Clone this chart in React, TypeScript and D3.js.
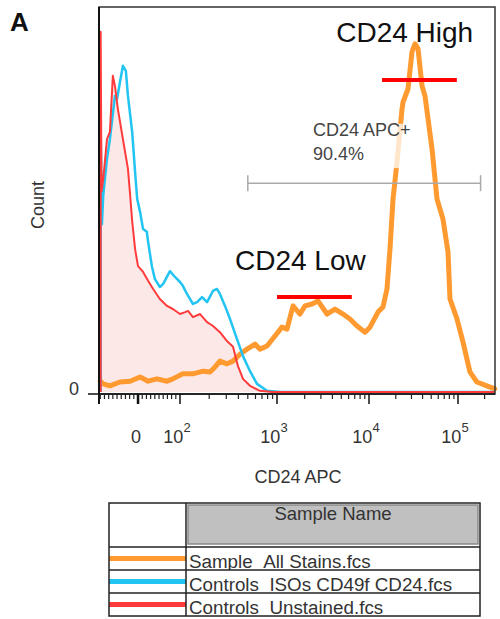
import * as d3 from "d3";

// Histogram curves: [CD24 APC value, % of max count]
const allStains: [number, number][] = [
  [-90, 2.8], [-83, 2.1], [-67, 1.6], [-43, 2.6], [-19, 2.8], [5, 3.9], [24, 2.8],
  [45, 3.4], [69, 2.8], [83, 3.4], [107, 4.7], [136, 4.7], [173, 5.4], [204, 5.2],
  [230, 6.5], [258, 8], [305, 7.3], [352, 8], [415, 9.8], [491, 11.1], [593, 12.4],
  [668, 11.1], [789, 11.9], [953, 14.5], [1133, 16.8], [1284, 16.3], [1494, 22.3],
  [1778, 20.2], [2015, 22.3], [2400, 22.8], [2790, 23.6], [3494, 20.2], [4266, 21.5],
  [5216, 20.2], [6208, 18.9], [7410, 17.1], [9050, 15.5], [10260, 16.8], [12620, 20.7],
  [14360, 22], [15920, 26.7], [17210, 37], [18620, 50], [20640, 59.6], [23500, 73.3],
  [24100, 75.1], [27420, 78.5], [30410, 88.1], [32870, 90.2], [35550, 88.9],
  [39440, 79.3], [42580, 76.7], [51050, 63], [58080, 50], [67800, 44.8], [77200, 36.3],
  [81300, 24.1], [97500, 18.9], [113800, 13], [136400, 5.2], [163400, 2.6],
  [211900, 1.6], [260000, 0.8],
];

const isoControls: [number, number][] = [
  [-89, 0], [-89, 67.4], [-86, 43.5], [-83, 50.8], [-74, 60.4], [-67, 65.5], [-55, 76.7],
  [-50, 75.9], [-43, 80.3], [-36, 84.5], [-29, 83.2], [-24, 76.7], [-14, 67.4], [-7, 57],
  [-2, 50], [5, 46.6], [12, 42.2], [21, 41.5], [24, 38.9], [33, 32.6], [40, 29.3],
  [52, 27.2], [60, 28], [76, 31.3], [88, 29.8], [100, 28.5], [107, 27.5], [118, 25.4],
  [136, 22.8], [150, 23.3], [169, 24.6], [190, 23.3], [219, 26.2], [240, 26.7],
  [258, 25.4], [291, 22.3], [328, 18.9], [387, 13.7], [446, 9.3], [527, 5.4], [622, 2.1],
  [789, 0.3], [1100, 0], [260000, 0],
];

const unstained: [number, number][] = [
  [-89, 0], [-89, 93.3], [-87, 52], [-83, 55], [-74, 65.5], [-67, 67.4], [-60, 81.9],
  [-55, 79.3], [-48, 73.3], [-36, 65.5], [-24, 57.8], [-19, 51.3], [-14, 44.3], [-7, 37],
  [0, 32.6], [12, 31.1], [24, 28.8], [36, 26.7], [52, 24.1], [69, 22.3], [83, 21.5],
  [100, 20.2], [113, 20.7], [121, 21], [136, 19.4], [161, 20.2], [190, 18.1], [219, 17.1],
  [258, 15.5], [305, 13.2], [352, 11.7], [396, 6.7], [446, 3.4], [527, 1.6], [668, 0.3],
  [900, 0], [260000, 0],
];

const majorTicks = [0, 100, 1000, 10000, 100000];
const majorExponents = [null, 2, 3, 4, 5];

const legendNames = ["Sample_All Stains.fcs", "Controls_ISOs CD49f CD24.fcs", "Controls_Unstained.fcs"];
const legendColors = ["#ff9a30", "#22c4f2", "#ff3b3b"];

// gate and population annotations
const gateRange = [500, 180000];
const gateLevel = 54.1;
const highBar = [14000, 97000];
const highLevel = 80.8;
const lowBar = [1000, 6500];
const lowLevel = 24.6;

export default function App() {
  const width = 500;
  const height = 619;
  const left = 99, right = 495, top = 7, bottom = 394;

  // biexponential-like display: linear near zero, log above 100
  const linPart = d3.scaleLinear().domain([-93, 100]).range([left, 180]);
  const logPart = d3
    .scaleLog()
    .domain([100, 1000, 10000, 100000, 262144])
    .range([180, 277, 369, 458, right]);
  const x = (v: number) => (v < 100 ? linPart(v) : logPart(v));
  const y = d3.scaleLinear().domain([0, 100]).range([392, 6]);

  const line = d3
    .line<[number, number]>()
    .x((d) => x(d[0]))
    .y((d) => y(d[1]));
  const area = d3
    .area<[number, number]>()
    .x((d) => x(d[0]))
    .y0(y(0))
    .y1((d) => y(d[1]));

  // minor ticks
  const minor: number[] = [];
  for (let v = -90; v < 100; v += 10) if (v !== 0) minor.push(v);
  for (let k = 100; k <= 100000; k *= 10)
    for (let m = 2; m <= 9; m++) if (k * m < 262144) minor.push(k * m);

  const font = "'Liberation Sans', Arial, sans-serif";

  // legend geometry
  const lgLeft = 109, lgRight = 480, lgTop = 503, lgBottom = 616, lgDiv = 186, lgHead = 547;
  const rowH = (lgBottom - lgHead) / legendNames.length;

  return (
    <svg
      width={width}
      height={height}
      style={{ position: "absolute", left: 0, top: 0, background: "#fff" }}
      fontFamily={font}
    >
      <defs>
        {legendNames.map((_, i) => (
          <clipPath id={`row${i}`} key={i}>
            <rect x={lgDiv} y={lgHead + i * rowH} width={lgRight - lgDiv} height={rowH} />
          </clipPath>
        ))}
      </defs>
      <text x={10} y={31} fontSize={26} fontWeight="bold" fill="#111">A</text>

      {/* histograms */}
      <path d={area(unstained) ?? ""} fill="#fde8e8" />
      <path d={line(allStains) ?? ""} fill="none" stroke="#ff9a30" strokeWidth={5} strokeLinejoin="round" strokeLinecap="round" />
      <path d={line(isoControls) ?? ""} fill="none" stroke="#22c4f2" strokeWidth={2.5} strokeLinejoin="round" />
      <path d={line(unstained) ?? ""} fill="none" stroke="#ff3b3b" strokeWidth={2} strokeLinejoin="round" />

      {/* frame */}
      <rect x={left} y={top} width={right - left} height={bottom - top} fill="none" stroke="#333" strokeWidth={1.5} />
      <line x1={left} x2={left} y1={top} y2={bottom + 10} stroke="#111" strokeWidth={2} />
      <line x1={88} x2={right} y1={bottom} y2={bottom} stroke="#111" strokeWidth={1.5} />

      {/* x ticks */}
      {minor.map((v) => (
        <line key={v} x1={x(v)} x2={x(v)} y1={bottom} y2={bottom + 5} stroke="#222" strokeWidth={1.2} />
      ))}
      {majorTicks.map((v, i) => (
        <g key={v}>
          <line x1={x(v)} x2={x(v)} y1={bottom} y2={bottom + 10} stroke="#111" strokeWidth={v === 0 ? 2.5 : 1.5} />
          {majorExponents[i] === null ? (
            <text x={x(v) - 2} y={443} fontSize={18} textAnchor="middle" fill="#333">0</text>
          ) : (
            <text x={x(v) - 3} y={443} fontSize={18} textAnchor="middle" fill="#333">
              10
              <tspan fontSize={13} dy={-11}>{majorExponents[i]}</tspan>
            </text>
          )}
        </g>
      ))}
      <text x={298} y={483} fontSize={18} textAnchor="middle" fill="#333">CD24 APC</text>

      {/* y axis */}
      <text x={74} y={395} fontSize={18} textAnchor="middle" fill="#333">0</text>
      <text transform="translate(44,205) rotate(-90)" fontSize={18} textAnchor="middle" fill="#333">Count</text>

      {/* gate */}
      <line x1={x(gateRange[0])} x2={x(gateRange[1])} y1={y(gateLevel)} y2={y(gateLevel)} stroke="#aaa" strokeWidth={1.5} />
      {gateRange.map((v) => (
        <line key={v} x1={x(v)} x2={x(v)} y1={y(gateLevel) - 8} y2={y(gateLevel) + 8} stroke="#aaa" strokeWidth={1.5} />
      ))}
      <rect x={x(2400) - 2} y={y(69.5)} width={x(24000) - x(2400) + 2} height={y(58) - y(69.5)} fill="#fff" opacity={0.75} />
      <text x={x(2460)} y={y(66.3)} fontSize={18} fill="#444">CD24 APC+</text>
      <text x={x(2460)} y={y(60.1)} fontSize={18} fill="#444">90.4%</text>

      {/* population markers */}
      <line x1={x(highBar[0])} x2={x(highBar[1])} y1={y(highLevel)} y2={y(highLevel)} stroke="#ff0000" strokeWidth={4} />
      <line x1={x(lowBar[0])} x2={x(lowBar[1])} y1={y(lowLevel)} y2={y(lowLevel)} stroke="#ff0000" strokeWidth={4} />
      <text x={x(4400)} y={y(90.7)} fontSize={28} fill="#111">CD24 High</text>
      <text x={x(369)} y={y(31.6)} fontSize={28} fill="#111">CD24 Low</text>

      {/* legend table */}
      <rect x={lgLeft} y={lgTop} width={lgRight - lgLeft} height={lgBottom - lgTop} fill="#fff" />
      <rect x={lgDiv + 2} y={lgTop + 2} width={lgRight - lgDiv - 4} height={lgHead - lgTop - 5} fill="#c0c0c0" stroke="#8a8a8a" strokeWidth={1.5} />
      <text x={(lgDiv + lgRight) / 2} y={520} fontSize={18.5} textAnchor="middle" fill="#333">Sample Name</text>
      {legendNames.map((name, i) => {
        const y0 = lgHead + i * rowH;
        return (
          <g key={name}>
            <line x1={lgLeft} x2={lgDiv} y1={y0 + rowH / 2} y2={y0 + rowH / 2} stroke={legendColors[i]} strokeWidth={5} />
            <text x={lgDiv + 3} y={y0 + rowH - 2} fontSize={18.8} fill="#333" clipPath={`url(#row${i})`}>{name}</text>
          </g>
        );
      })}
      {legendNames.map((_, i) => (
        <line key={i} x1={lgLeft} x2={lgRight} y1={lgHead + i * rowH} y2={lgHead + i * rowH} stroke="#222" strokeWidth={1.5} />
      ))}
      <line x1={lgDiv} x2={lgDiv} y1={lgTop} y2={lgBottom} stroke="#222" strokeWidth={1.5} />
      <rect x={lgLeft} y={lgTop} width={lgRight - lgLeft} height={lgBottom - lgTop} fill="none" stroke="#222" strokeWidth={1.5} />
    </svg>
  );
}
